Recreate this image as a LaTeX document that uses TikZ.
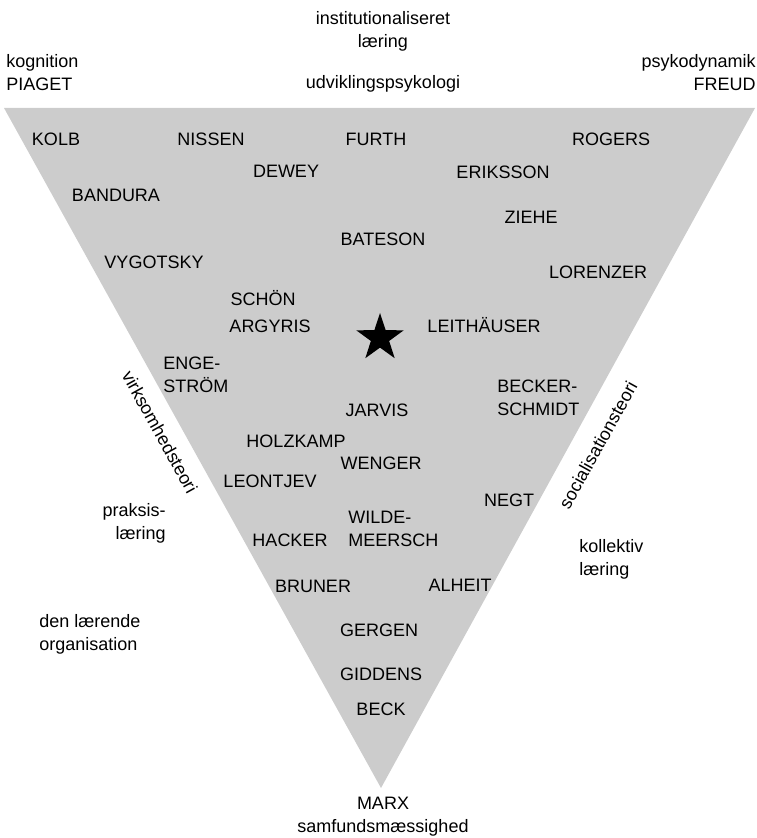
\documentclass[tikz,border=0pt]{standalone}
\usepackage{fontspec}
\setmainfont{Liberation Sans}
\usetikzlibrary{shapes.geometric}

\begin{document}
\begin{tikzpicture}[x=0.5pt,y=-0.5pt,font=\fontsize{9}{11.5}\selectfont,
   nm/.style={inner sep=0pt,text height=6.5pt,text depth=0pt},
   lst/.style={inner sep=0pt,align=left,anchor=west},
   rst/.style={inner sep=0pt,align=right,anchor=east},
   cst/.style={inner sep=0pt,align=center},
   theory/.style={inner sep=0pt}]
  \useasboundingbox (0,0) rectangle (756,838);
  \coordinate (tl) at (4,108);
  \coordinate (tr) at (755,108);
  \coordinate (bt) at (381,788);
  \fill[black!20] (tl) -- (tr) -- (bt) -- cycle;

  \node[cst] (inst) at (383,31) {institutionaliseret\\læring};
  \node[lst] (kogn) at (6,72.5) {kognition\\PIAGET};
  \node[rst] (psyk) at (756,72.5) {psykodynamik\\FREUD};
  \node[cst] (udv) at (383,84) {udviklingspsykologi};
  \node[cst] (marx) at (383,817) {MARX\\samfundsmæssighed};

  \node[nm] (kolb) at (56,139) {KOLB};
  \node[nm] (nissen) at (211,139) {NISSEN};
  \node[nm] (furth) at (376,139) {FURTH};
  \node[nm] (rogers) at (611,139) {ROGERS};
  \node[nm] (dewey) at (286,171) {DEWEY};
  \node[nm] (eriksson) at (503,172) {ERIKSSON};
  \node[nm] (bandura) at (116,195) {BANDURA};
  \node[nm] (ziehe) at (531,217) {ZIEHE};
  \node[nm] (bateson) at (383,239) {BATESON};
  \node[nm] (vygotsky) at (154,262) {VYGOTSKY};
  \node[nm] (lorenzer) at (598,272) {LORENZER};
  \node[nm] (schoen) at (263,299) {SCHÖN};
  \node[nm] (argyris) at (270,326) {ARGYRIS};
  \node[star,star points=5,star point ratio=2.6,fill=black,inner sep=0pt,
        minimum size=25pt] (midt) at (380,338) {};
  \node[nm] (leith) at (484,326) {LEITHÄUSER};
  \node[lst] (enge) at (163,374.5) {ENGE-\\STRÖM};
  \node[lst] (becker) at (497,397.5) {BECKER-\\SCHMIDT};
  \node[nm] (jarvis) at (377,410) {JARVIS};
  \node[nm] (holzkamp) at (296,441) {HOLZKAMP};
  \node[nm] (wenger) at (381,463) {WENGER};
  \node[nm] (leontjev) at (270,481) {LEONTJEV};
  \node[nm] (negt) at (509,500) {NEGT};
  \node[lst] (wilde) at (348,529) {WILDE-\\MEERSCH};
  \node[nm] (hacker) at (290,540) {HACKER};
  \node[nm] (bruner) at (313,586) {BRUNER};
  \node[nm] (alheit) at (460,585) {ALHEIT};
  \node[nm] (gergen) at (379,630) {GERGEN};
  \node[nm] (giddens) at (381,674) {GIDDENS};
  \node[nm] (beck) at (381,709) {BECK};

  \node[theory,rotate=-61] (virk) at (160,432) {virksomhedsteori};
  \node[theory,rotate=61] (soc) at (598,445) {socialisationsteori};
  \node[rst] (praksis) at (166,523) {praksis-\\læring};
  \node[lst] (kollektiv) at (579,559) {kollektiv\\læring};
  \node[lst] (org) at (39,634) {den lærende\\organisation};
\end{tikzpicture}
\end{document}
